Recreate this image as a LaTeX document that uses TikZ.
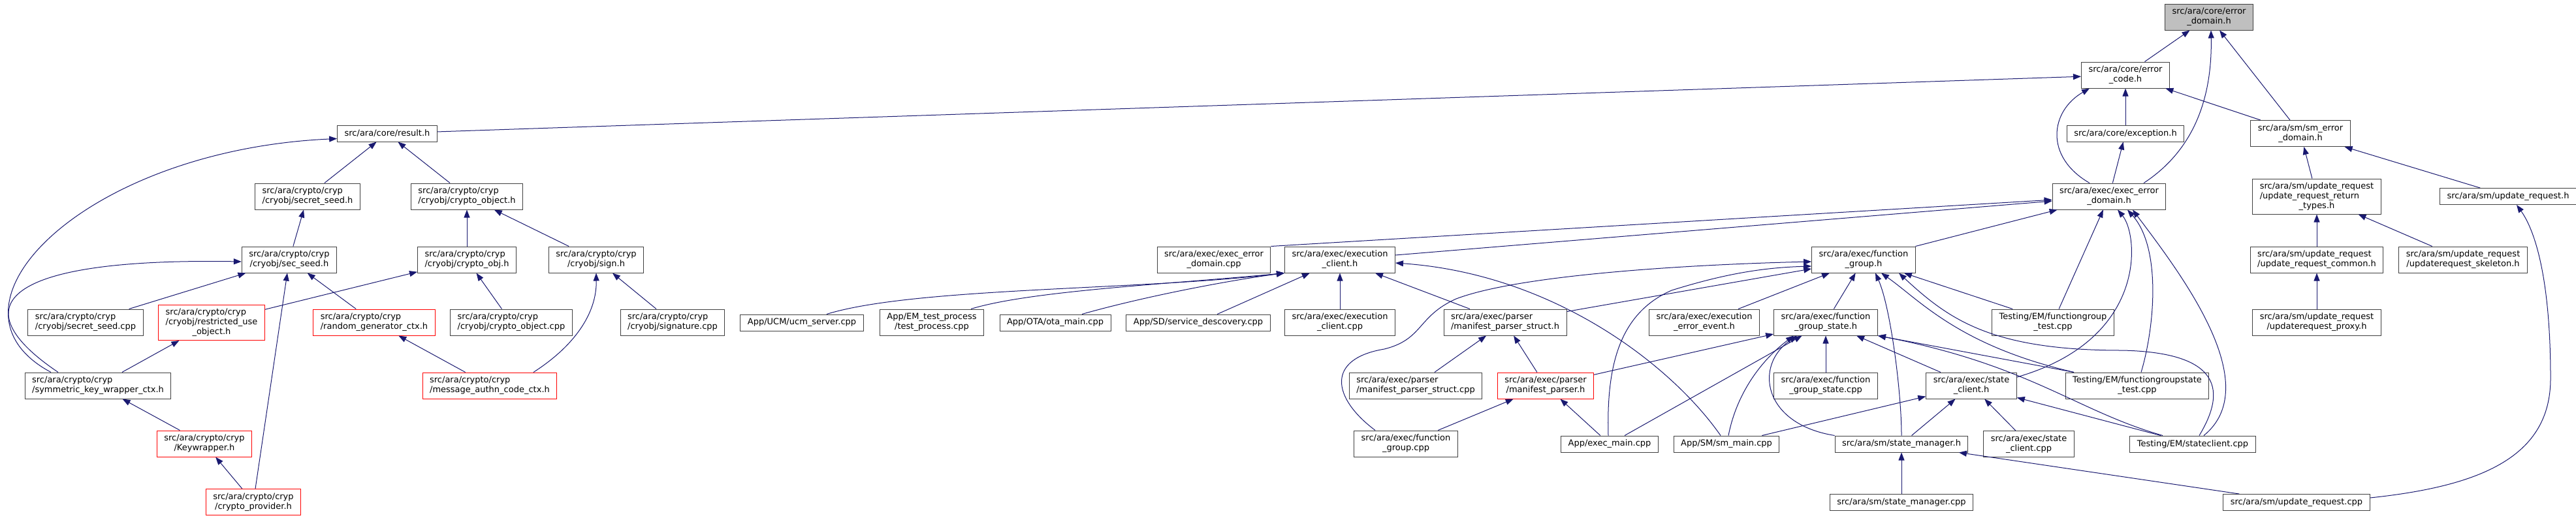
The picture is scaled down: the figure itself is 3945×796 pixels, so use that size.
\documentclass[tikz,border=0pt]{standalone}
\usepackage{fontspec}
\newfontfamily\dotfont{DejaVu Sans}
\usetikzlibrary{arrows.meta}
\definecolor{edgeblue}{HTML}{191970}
\definecolor{rootgrey}{HTML}{BFBFBF}
\newcommand{\twol}[2]{\begin{tabular}{@{}l@{}}#1\\\multicolumn{1}{@{}c@{}}{#2}\end{tabular}}
\newcommand{\threel}[3]{\begin{tabular}{@{}l@{}}#1\\#2\\\multicolumn{1}{@{}c@{}}{#3}\end{tabular}}
\tikzset{
  file/.style={draw=black!75, fill=white, line width=1pt, inner xsep=11pt, inner ysep=0pt,
    minimum height=25pt, font=\dotfont\fontsize{13}{15}\selectfont},
  file2/.style={file, minimum height=40pt},
  file3/.style={file, minimum height=54pt},
  trunc/.style={draw=red},
  root/.style={fill=rootgrey},
  dep/.style={draw=edgeblue, line width=1pt, -{Triangle[length=12pt,width=9pt]}},
}
\begin{document}
\begin{tikzpicture}[x=1pt,y=-1pt]
\useasboundingbox (0,0) rectangle (3945,796);
% files, top to bottom
\node[file2,root] (errdom) at (3383,26) {\twol{src/ara/core/error}{\_domain.h}};
\node[file2] (errcode) at (3255,115) {\twol{src/ara/core/error}{\_code.h}};
\node[file] (result) at (593,204.5) {src/ara/core/result.h};
\node[file] (exception) at (3255,204.5) {src/ara/core/exception.h};
\node[file2] (smerr) at (3523,204.5) {\twol{src/ara/sm/sm\_error}{\_domain.h}};
\node[file2] (secretseedh) at (471,301) {\twol{src/ara/crypto/cryp}{/cryobj/secret\_seed.h}};
\node[file2] (cryptoobjecth) at (715,301) {\twol{src/ara/crypto/cryp}{/cryobj/crypto\_object.h}};
\node[file2] (execerrh) at (3230,301) {\twol{src/ara/exec/exec\_error}{\_domain.h}};
\node[file3] (urtypes) at (3548,301) {\threel{src/ara/sm/update\_request}{/update\_request\_return}{\_types.h}};
\node[file] (urh) at (3841,301) {src/ara/sm/update\_request.h};
\node[file2] (secseed) at (443,398) {\twol{src/ara/crypto/cryp}{/cryobj/sec\_seed.h}};
\node[file2] (cryptoobj) at (715,398) {\twol{src/ara/crypto/cryp}{/cryobj/crypto\_obj.h}};
\node[file2] (sign) at (913,398) {\twol{src/ara/crypto/cryp}{/cryobj/sign.h}};
\node[file2] (execerrcpp) at (1859,398) {\twol{src/ara/exec/exec\_error}{\_domain.cpp}};
\node[file2] (execclient) at (2052,398) {\twol{src/ara/exec/execution}{\_client.h}};
\node[file2] (fgh) at (2854,398) {\twol{src/ara/exec/function}{\_group.h}};
\node[file2] (urcommon) at (3548,398) {\twol{src/ara/sm/update\_request}{/update\_request\_common.h}};
\node[file2] (urskeleton) at (3772,398) {\twol{src/ara/sm/update\_request}{/updaterequest\_skeleton.h}};
\node[file2] (secretseedcpp) at (131,494) {\twol{src/ara/crypto/cryp}{/cryobj/secret\_seed.cpp}};
\node[file3,trunc] (restricted) at (324,494.5) {\threel{src/ara/crypto/cryp}{/cryobj/restricted\_use}{\_object.h}};
\node[file2,trunc] (randomgen) at (573,494) {\twol{src/ara/crypto/cryp}{/random\_generator\_ctx.h}};
\node[file2] (cryptoobjectcpp) at (783,494) {\twol{src/ara/crypto/cryp}{/cryobj/crypto\_object.cpp}};
\node[file2] (signaturecpp) at (1030,494) {\twol{src/ara/crypto/cryp}{/cryobj/signature.cpp}};
\node[file] (ucm) at (1228,494.5) {App/UCM/ucm\_server.cpp};
\node[file2] (emtest) at (1427,494) {\twol{App/EM\_test\_process}{/test\_process.cpp}};
\node[file] (ota) at (1616,494.5) {App/OTA/ota\_main.cpp};
\node[file] (sd) at (1835,494.5) {App/SD/service\_descovery.cpp};
\node[file2] (execclientcpp) at (2052,494) {\twol{src/ara/exec/execution}{\_client.cpp}};
\node[file2] (mpstruct) at (2305,494) {\twol{src/ara/exec/parser}{/manifest\_parser\_struct.h}};
\node[file2] (errevent) at (2610,494) {\twol{src/ara/exec/execution}{\_error\_event.h}};
\node[file2] (fgstate) at (2796,494) {\twol{src/ara/exec/function}{\_group\_state.h}};
\node[file2] (fgtest) at (3144,494) {\twol{Testing/EM/functiongroup}{\_test.cpp}};
\node[file2] (urproxy) at (3548,494) {\twol{src/ara/sm/update\_request}{/updaterequest\_proxy.h}};
\node[file2] (symkey) at (150,591) {\twol{src/ara/crypto/cryp}{/symmetric\_key\_wrapper\_ctx.h}};
\node[file2,trunc] (mac) at (750,591) {\twol{src/ara/crypto/cryp}{/message\_authn\_code\_ctx.h}};
\node[file2] (mpstructcpp) at (2168,591) {\twol{src/ara/exec/parser}{/manifest\_parser\_struct.cpp}};
\node[file2,trunc] (mparser) at (2367,591) {\twol{src/ara/exec/parser}{/manifest\_parser.h}};
\node[file2] (fgstatecpp) at (2796,591) {\twol{src/ara/exec/function}{\_group\_state.cpp}};
\node[file2] (stateclient) at (3019,591) {\twol{src/ara/exec/state}{\_client.h}};
\node[file2] (fgstatetest) at (3273,591) {\twol{Testing/EM/functiongroupstate}{\_test.cpp}};
\node[file2,trunc] (keywrap) at (313,680) {\twol{src/ara/crypto/cryp}{/Keywrapper.h}};
\node[file2] (fgcpp) at (2153,680) {\twol{src/ara/exec/function}{\_group.cpp}};
\node[file] (execmain) at (2465,680.5) {App/exec\_main.cpp};
\node[file] (smmain) at (2644,680.5) {App/SM/sm\_main.cpp};
\node[file] (statemgr) at (2912,680.5) {src/ara/sm/state\_manager.h};
\node[file2] (stateclientcpp) at (3107,680.5) {\twol{src/ara/exec/state}{\_client.cpp}};
\node[file] (tstateclient) at (3358,680.5) {Testing/EM/stateclient.cpp};
\node[file2,trunc] (provider) at (388,769.5) {\twol{src/ara/crypto/cryp}{/crypto\_provider.h}};
\node[file] (statemgrcpp) at (2912,770) {src/ara/sm/state\_manager.cpp};
\node[file] (urcpp) at (3517,770) {src/ara/sm/update\_request.cpp};
% straight includes
\foreach \a/\b in {errcode/errdom, smerr/errdom, result/errcode, exception/errcode, smerr/errcode,
    execerrh/exception, secretseedh/result, cryptoobjecth/result, secseed/secretseedh,
    secretseedcpp/secseed, provider/secseed, randomgen/secseed, cryptoobj/cryptoobjecth,
    sign/cryptoobjecth, restricted/cryptoobj, cryptoobjectcpp/cryptoobj, signaturecpp/sign,
    symkey/restricted, mac/randomgen, keywrap/symkey, provider/keywrap,
    urtypes/smerr, urh/smerr, urcommon/urtypes, urskeleton/urtypes, urproxy/urcommon,
    execclient/execerrh, fgh/execerrh, fgtest/execerrh,
    sd/execclient, execclientcpp/execclient, mpstruct/execclient,
    mpstructcpp/mpstruct, mparser/mpstruct, mpstruct/fgh, errevent/fgh, fgstate/fgh, fgtest/fgh,
    fgcpp/mparser, execmain/mparser, mparser/fgstate, execmain/fgstate, fgstatecpp/fgstate,
    stateclient/fgstate, smmain/stateclient, statemgr/stateclient, stateclientcpp/stateclient,
    tstateclient/stateclient, statemgrcpp/statemgr, urcpp/statemgr}
  \draw[dep] (\a) -- (\b);
\draw[dep] (execerrcpp.north east) -- (execerrh);
\draw[dep] ([xshift=-97pt]fgstatetest.north) -- (fgstate.south east);
% curved includes
\draw[dep] ([xshift=-72pt]symkey.north) .. controls (-110,470) and (130,230) .. ([yshift=-8pt]result.west);
\draw[dep] ([xshift=-61pt]symkey.north) .. controls (-60,470) and (0,395) .. ([yshift=-3pt]secseed.west);
\draw[dep] ([xshift=67pt]mac.north) .. controls (880,530) and (914,480) .. (sign.south);
\draw[dep] ([xshift=53pt]execerrh.north) .. controls (3360,230) and (3388,150) .. ([xshift=3pt]errdom.south);
\draw[dep] ([xshift=-30pt]execerrh.north) .. controls (3130,240) and (3140,170) .. ([xshift=-55pt]errcode.south);
\draw[dep] ([xshift=38pt]ucm.north) .. controls (1400,440) and (1750,445) .. (execclient.south west);
\draw[dep] ([xshift=60pt]emtest.north) .. controls (1580,445) and (1800,435) .. (execclient.south west);
\draw[dep] ([xshift=41pt]ota.north) .. controls (1750,455) and (1880,430) .. (execclient.south west);
\draw[dep] ([xshift=-9pt]smmain.north) .. controls (2560,560) and (2380,420) .. ([yshift=-5pt]execclient.east);
\draw[dep] ([xshift=-47pt]fgcpp.north) .. controls (2040,610) and (2030,550) .. (2120,535)
  .. controls (2180,520) and (2170,485) .. (2230,458) .. controls (2330,420) and (2600,405) .. ([yshift=-3pt]fgh.west);
\draw[dep] ([xshift=-2pt]execmain.north) .. controls (2460,560) and (2480,480) .. (2560,445)
  .. controls (2640,420) and (2700,410) .. ([yshift=-10pt]fgh.west);
\draw[dep] ([xshift=3pt]smmain.north) .. controls (2660,600) and (2700,550) .. ([xshift=-49pt]fgstate.south);
\draw[dep] (statemgr.north west) .. controls (2700,650) and (2685,560) .. ([xshift=-44pt]fgstate.south);
\draw[dep] (statemgr.north) .. controls (2912,600) and (2895,470) .. ([xshift=18pt]fgh.south);
\draw[dep] ([yshift=13pt]stateclient.east) .. controls (3290,520) and (3275,360) .. ([xshift=13pt]execerrh.south);
\draw[dep] ([xshift=6pt]fgstatetest.north) .. controls (3300,500) and (3310,380) .. ([xshift=28pt]execerrh.south);
\draw[dep] ([xshift=17pt]tstateclient.north) .. controls (3470,590) and (3340,420) .. ([xshift=36pt]execerrh.south);
\draw[dep] ([xshift=10pt]tstateclient.north) .. controls (3415,590) and (3390,540) .. (3250,537)
  .. controls (3050,537) and (2985,490) .. ([xshift=54pt]fgh.south);
\draw[dep] ([xshift=-97pt]fgstatetest.north) .. controls (3000,530) and (2940,460) .. ([xshift=27pt]fgh.south);
\draw[dep] ([xshift=-46pt]tstateclient.north) .. controls (3180,630) and (3110,560) .. (fgstate.south east);
\draw[dep] ([yshift=7pt]urcpp.east) .. controls (3800,745) and (3906,700) .. (3906,580)
  .. controls (3906,420) and (3880,350) .. ([xshift=13pt]urh.south);
\end{tikzpicture}
\end{document}
